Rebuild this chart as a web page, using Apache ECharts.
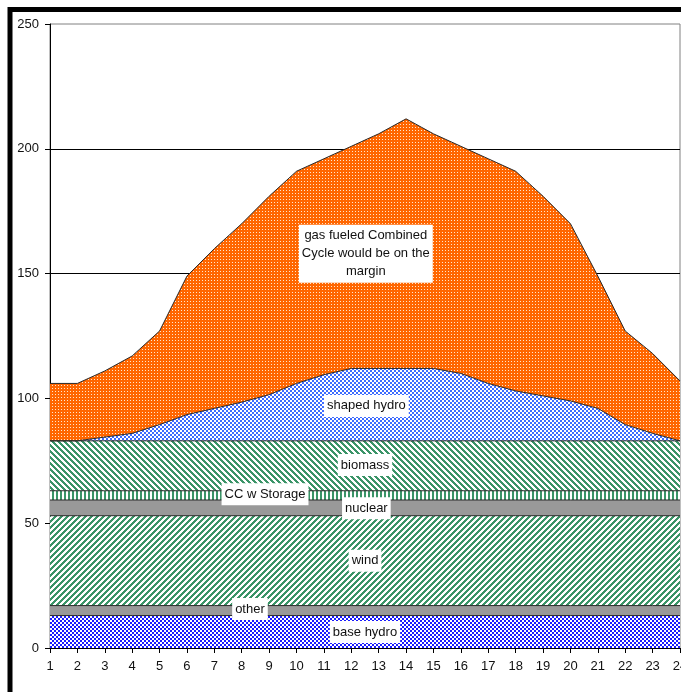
<!DOCTYPE html>
<html>
<head>
<meta charset="utf-8">
<style>
  html, body { margin: 0; padding: 0; background: #fff; }
  #chart { width: 681px; height: 692px; }
</style>
<script src="https://cdn.jsdelivr.net/npm/echarts@6/dist/echarts.min.js"></script>
</head>
<body>
<div id="chart"></div>
<script>
// Hourly load stack (MW), hours 1..24
const hours = ['1','2','3','4','5','6','7','8','9','10','11','12','13','14','15','16','17','18','19','20','21','22','23','24'];
const baseHydro   = [13,13,13,13,13,13,13,13,13,13,13,13,13,13,13,13,13,13,13,13,13,13,13,13];
const other       = [4,4,4,4,4,4,4,4,4,4,4,4,4,4,4,4,4,4,4,4,4,4,4,4];
const wind        = [36,36,36,36,36,36,36,36,36,36,36,36,36,36,36,36,36,36,36,36,36,36,36,36];
const nuclear     = [6.3,6.3,6.3,6.3,6.3,6.3,6.3,6.3,6.3,6.3,6.3,6.3,6.3,6.3,6.3,6.3,6.3,6.3,6.3,6.3,6.3,6.3,6.3,6.3];
const ccStorage   = [3.7,3.7,3.7,3.7,3.7,3.7,3.7,3.7,3.7,3.7,3.7,3.7,3.7,3.7,3.7,3.7,3.7,3.7,3.7,3.7,3.7,3.7,3.7,3.7];
const biomass     = [20,20,20,20,20,20,20,20,20,20,20,20,20,20,20,20,20,20,20,20,20,20,20,20];
const shapedHydro = [0,0,1.5,3,6.5,10.5,13,15.5,18.5,23,26.5,29,29,29,29,27,23,20,18,16,13,6.5,3,0];
const gasCC       = [23,23,26.5,31,37.5,55.5,64,71.5,79.5,85,86.5,89,94,100,94,91,90,88,80,71,53,37.5,32,24];
const yTicks      = { min: 0, max: 250, step: 50 };

// Text annotations: [label, hour position (1-based), value]
const notes = [
  ['gas fueled Combined\nCycle would be on the\nmargin', 12.53, 158],
  ['shaped hydro', 12.55, 97],
  ['biomass', 12.5, 73.3],
  ['CC w Storage', 8.85, 61.6],
  ['nuclear', 12.55, 56],
  ['wind', 12.5, 35],
  ['other', 8.3, 15.6],
  ['base hydro', 12.5, 6.4]
];

// --- fill patterns ---
function tile(w, h, bg, fg, test) {
  const c = document.createElement('canvas');
  c.width = w; c.height = h;
  const g = c.getContext('2d');
  g.fillStyle = bg; g.fillRect(0, 0, w, h);
  g.fillStyle = fg;
  for (let y = 0; y < h; y++)
    for (let x = 0; x < w; x++)
      if (test(x, y)) g.fillRect(x, y, 1, 1);
  return { image: c, repeat: 'repeat' };
}
const green = '#3a9467';
const patBaseHydro = tile(4, 4, '#ffffff', '#1a1aff', (x, y) => (((x >> 1) + (y >> 1)) & 1) === 0);
const patShaped    = tile(4, 4, '#ffffff', '#3d6bff', (x, y) => (((x >> 1) + (y >> 1)) & 1) === 0);
const patWind      = tile(6, 6, '#ffffff', green, (x, y) => ((x + y) % 6) < 3);
const patBiomass   = tile(6, 6, '#ffffff', green, (x, y) => (((x - y) % 6) + 6) % 6 < 3);
const patCC        = tile(4, 4, '#ffffff', green, (x, y) => (x % 4) < 2);
const patGas       = tile(3, 3, '#ff6600', '#ffe6cc', (x, y) => x === 1 && y === 1);

const FONT = '"Liberation Sans", Arial, sans-serif';

function layer(name, data, fill) {
  return {
    name, type: 'line', stack: 'total', data,
    symbol: 'none', smooth: false,
    lineStyle: { color: '#2a2a2a', width: 1 },
    areaStyle: { color: fill, opacity: 1 },
    emphasis: { disabled: true }
  };
}

const chart = echarts.init(document.getElementById('chart'), null, { renderer: 'canvas' });
chart.setOption({
  animation: false,
  backgroundColor: '#ffffff',
  grid: {
    left: 50, right: 1, top: 24, bottom: 44,
    containLabel: false, outerBoundsMode: 'none',
    show: true, borderColor: '#808080', borderWidth: 1, backgroundColor: 'transparent'
  },
  xAxis: {
    type: 'category', data: hours, boundaryGap: false,
    axisLine: { lineStyle: { color: '#000', width: 1 } },
    axisTick: { show: true, interval: 0, length: 5, lineStyle: { color: '#000' } },
    axisLabel: { interval: 0, color: '#111', fontFamily: FONT, fontSize: 13, margin: 12, hideOverlap: false },
    splitLine: { show: false }
  },
  yAxis: {
    type: 'value', min: yTicks.min, max: yTicks.max, interval: yTicks.step,
    axisLine: { show: true, lineStyle: { color: '#000', width: 1 } },
    axisTick: { show: true, length: 5, lineStyle: { color: '#000' } },
    axisLabel: { color: '#111', fontFamily: FONT, fontSize: 13, margin: 11 },
    splitLine: { show: true, showMaxLine: false, lineStyle: { color: '#000', width: 1 } }
  },
  series: [
    layer('base hydro', baseHydro, patBaseHydro),
    layer('other', other, '#999999'),
    layer('wind', wind, patWind),
    layer('nuclear', nuclear, '#999999'),
    layer('CC w Storage', ccStorage, patCC),
    layer('biomass', biomass, patBiomass),
    layer('shaped hydro', shapedHydro, patShaped),
    layer('gas fueled Combined Cycle', gasCC, patGas)
  ]
});

// place annotations in data coordinates
function hourToPx(h) {
  const i = Math.floor(h) - 1, f = h - Math.floor(h);
  const a = chart.convertToPixel({ xAxisIndex: 0 }, hours[i]);
  const b = chart.convertToPixel({ xAxisIndex: 0 }, hours[Math.min(i + 1, hours.length - 1)]);
  return a + (b - a) * f;
}
const graphics = notes.map(([text, h, v]) => ({
  type: 'text', z: 100,
  x: hourToPx(h),
  y: chart.convertToPixel({ yAxisIndex: 0 }, v),
  style: {
    text, align: 'center', verticalAlign: 'middle',
    fill: '#111', font: '13px ' + FONT, lineHeight: 18,
    backgroundColor: '#ffffff', padding: [2, 3, 2, 3]
  }
}));
// outer frame
graphics.push({
  type: 'rect', z: 100, silent: true,
  shape: { x: 10, y: 9.5, width: 720, height: 720 },
  style: { fill: 'none', stroke: '#000', lineWidth: 5 }
});
chart.setOption({ graphic: graphics });
</script>
</body>
</html>
